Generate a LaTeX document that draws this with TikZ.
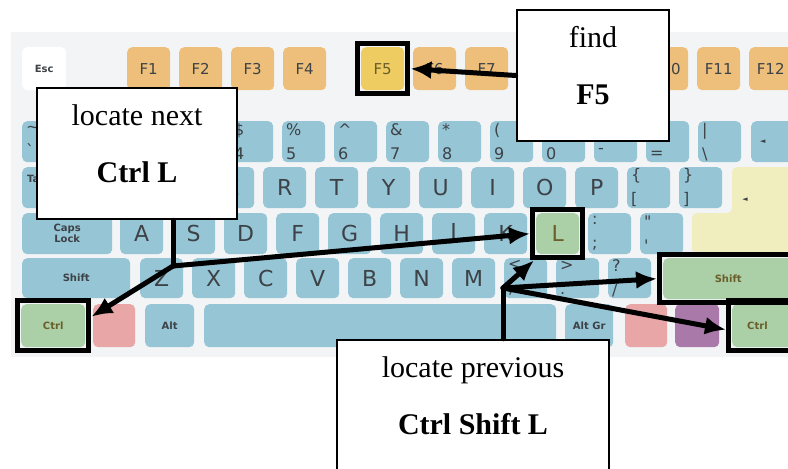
\documentclass[tikz,border=0pt]{standalone}
\usepackage{fontspec}
\setmainfont{Liberation Serif}
\newfontfamily\keyfont{DejaVu Sans}
\usetikzlibrary{arrows.meta,positioning,calc,fit}
\definecolor{kbback}{HTML}{F3F4F6}
\definecolor{keyblue}{HTML}{96C5D6}
\definecolor{keyfn}{HTML}{EDBF7A}
\definecolor{keyfive}{HTML}{EECC62}
\definecolor{keygreen}{HTML}{ABD0A7}
\definecolor{keypink}{HTML}{E8A6A6}
\definecolor{keypurple}{HTML}{A97AA9}
\definecolor{keyenter}{HTML}{F0EEBF}
\definecolor{keyink}{HTML}{3D4247}
\definecolor{keyolive}{HTML}{6B5E2A}
\tikzset{
  key/.style={anchor=north west, rounded corners=5pt, inner sep=0pt, minimum width=43pt, minimum height=41pt, fill=keyblue, text=keyink, font=\keyfont\fontsize{22}{22}\selectfont},
  fnkey/.style={key, minimum height=43pt, fill=keyfn, font=\keyfont\fontsize{15}{15}\selectfont},
  numkey/.style={key, align=left, text width=35pt, inner xsep=4pt, font=\keyfont\fontsize{16}{24}\selectfont},
  modkey/.style={key, font=\keyfont\bfseries\fontsize{10}{11}\selectfont},
  hikey/.style={fill=keygreen, text=keyolive},
  hilite/.style={draw, line width=5pt, inner sep=3.5pt},
  callout/.style={draw, fill=white, line width=2.5pt, align=center, text height=77pt, text depth=20pt, font=\fontsize{30}{57}\selectfont},
  pointer/.style={line width=5pt, line cap=round}
}
\begin{document}
\begin{tikzpicture}[x=1pt, y=-1pt, >={Latex[length=21pt,width=18pt]}]
\useasboundingbox (0,0) rectangle (788,469);
\clip (0,0) rectangle (788,469);
\fill[kbback] (11,32) rectangle (800,357);
\node[modkey, minimum width=44pt, minimum height=43pt, fill=white] (esc) at (22,47) {Esc};
\foreach \x/\n in {127/1,179/2,231/3,283/4,413/6,465/7,517/8,593/9,645/10,697/11,749/12}
  \node[fnkey] (f\n) at (\x,47) {F\n};
\node[fnkey, hikey, fill=keyfive] (f5) at (361,47) {F5};
\foreach \x/\glyphtop/\glyphbot in {22/\textasciitilde/\textasciigrave, 74/!/1, 126/@/2, 178/\#/3, 230/\$/4, 282/\%/5, 334/\textasciicircum/6, 386/\&/7, 438/*/8, 490/{(}/9, 542/{)}/0, 594/\_/-, 646/+/=, 698/|/\textbackslash}
  \node[numkey] (n\x) at (\x,121) {\glyphtop\\\glyphbot};
\node[key, minimum width=60pt, align=left, text width=42pt, inner xsep=9pt, font=\keyfont\fontsize{7}{7}\selectfont] (bksp) at (751,121) {◄};
\node[modkey, minimum width=75pt, align=left, text width=65pt, inner xsep=5pt, text depth=18pt] (tab) at (22,167) {Tab};
\foreach \l [count=\i from 0] in {Q,W,E,R,T,Y,U,I,O,P}
  \node[key] (k\l) at (107+52*\i,167) {\l};
\node[numkey] (lbrack) at (627,167) {\{\\{}[};
\node[numkey] (rbrack) at (679,167) {\}\\{}]};
\fill[keyenter, rounded corners=5pt] (732,167) -- (800,167) -- (800,254) -- (692,254) -- (692,213) -- (732,213) -- cycle;
\node[text=keyink, font=\keyfont\fontsize{7}{7}\selectfont] (enterarrow) at (745,200) {◄};
\node[modkey, minimum width=90pt, align=center] (caps) at (22,213) {Caps\\Lock};
\foreach \l [count=\i from 0] in {A,S,D,F,G,H,J,K}
  \node[key] (k\l) at (120+52*\i,213) {\l};
\node[key, hikey] (kL) at (536,213) {L};
\node[numkey] (semi) at (588,213) {:\\;};
\node[numkey] (quote) at (640,213) {\textquotedbl\\\textquotesingle};
\node[modkey, minimum width=108pt, minimum height=40pt] (lshift) at (22,258) {Shift};
\foreach \l [count=\i from 0] in {Z,X,C,V,B,N,M}
  \node[key, minimum height=40pt] (k\l) at (140+52*\i,258) {\l};
\node[numkey, minimum height=40pt] (comma) at (504,258) {<\\,};
\node[numkey, minimum height=40pt] (period) at (556,258) {>\\.};
\node[numkey, minimum height=40pt] (slash) at (608,258) {?\\/};
\node[modkey, hikey, minimum width=130pt] (rshift) at (663,258) {Shift};
\node[modkey, hikey, minimum width=64pt, minimum height=43pt] (lctrl) at (21,304) {Ctrl};
\node[key, fill=keypink, minimum width=42pt, minimum height=43pt] (lwin) at (93,304) {};
\node[modkey, minimum width=49pt, minimum height=43pt] (lalt) at (145,304) {Alt};
\node[key, minimum width=352pt, minimum height=43pt] (space) at (204,304) {};
\node[modkey, minimum width=48pt, minimum height=43pt] (altgr) at (565,304) {Alt Gr};
\node[key, fill=keypink, minimum width=42pt, minimum height=43pt] (rwin) at (625,304) {};
\node[key, fill=keypurple, minimum width=44pt, minimum height=43pt] (menu) at (675,304) {};
\node[modkey, hikey, minimum height=43pt, align=left, text width=50pt, inner xsep=15pt] (rctrl) at (732,304) {Ctrl};
\node[hilite, fit=(f5)] (hlF5) {};
\node[hilite, fit=(kL)] (hlL) {};
\node[hilite, fit=(rshift)] (hlShiftR) {};
\node[hilite, fit=(lctrl)] (hlCtrlL) {};
\node[hilite, fit=(rctrl)] (hlCtrlR) {};
\node[callout, minimum width=200pt, minimum height=131pt] (next) at (137,153.5) {locate next\\\textbf{Ctrl L}};
\node[callout, minimum width=152pt, minimum height=131pt] (find) at (593,75.5) {find\\\textbf{F5}};
\node[callout, minimum width=272pt, minimum height=131pt] (prev) at (473,405.5) {locate previous\\\textbf{Ctrl Shift L}};
\coordinate (nextfoot) at (173,266);
\coordinate (prevfoot) at (503,288);
\draw[pointer,->] (find.west) -- (hlF5.east);
\draw[pointer] (next.south -| nextfoot) -- (nextfoot);
\draw[pointer,->] (nextfoot) -- (hlL.west);
\draw[pointer,->] (nextfoot) -- ([yshift=9pt]hlCtrlL.east);
\draw[pointer] (prev.north -| prevfoot) -- (prevfoot);
\draw[pointer,->] (prevfoot) -- ([xshift=4pt]hlL.south west);
\draw[pointer,->] (prevfoot) -- (hlShiftR.west);
\draw[pointer,->] (prevfoot) -- ([yshift=-4pt]hlCtrlR.west);
\end{tikzpicture}
\end{document}
